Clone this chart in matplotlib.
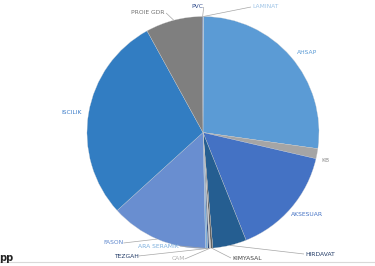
import matplotlib
matplotlib.use("Agg")
import matplotlib.pyplot as plt
import numpy as np

categories = ["LAMINAT", "AHSAP", "KB", "AKSESUAR", "HIRDAVAT", "KIMYASAL", "CAM",
              "TEZGAH", "ARA SERAMIK", "FASON", "ISCILIK", "PROIE GDR", "PVC"]
values = [0.1, 27.1, 1.4, 15.3, 4.7, 0.3, 0.2, 0.2, 0.3, 13.6, 28.7, 7.9, 0.1]

slice_colors = ["#9dc3e6", "#5b9bd5", "#a5a5a5", "#4472c4", "#255e91", "#636363", "#c9c9c9",
                "#264478", "#7cafdd", "#698ed0", "#327dc2", "#7f7f7f", "#2f4b8c"]
text_colors = ["#9dc3e6", "#5b9bd5", "#8c8c8c", "#4472c4", "#1f3864", "#404040", "#b0b0b0",
               "#1f3864", "#7cafdd", "#5b85cc", "#3a7bc8", "#707070", "#2f4b8c"]
# label positions (pixel coords, y from top), and whether a leader line is drawn
label_pos = [(252, 7), (307, 53), (325, 160), (307, 215), (305, 254), (232, 258), (178, 259),
             (126, 256), (158, 246), (113, 243), (72, 112), (148, 13), (197, 7)]
leader = [True, False, False, False, True, True, True, True, True, True, False, True, True]
ha_list = ["left", "center", "center", "center", "left", "left", "center",
           "center", "center", "center", "center", "center", "center"]

W, H = 375, 266
fig = plt.figure(figsize=(W / 100, H / 100), dpi=100)
ax = fig.add_axes([0, 0, 1, 1])

cx, cy, r = 203, H - 132.5, 116
wedges, _ = ax.pie(values, colors=slice_colors, startangle=90, counterclock=False,
                   center=(cx, cy), radius=r, frame=True,
                   wedgeprops=dict(linewidth=0.2, edgecolor="#d0d0d0"))
ax.set_xlim(0, W)
ax.set_ylim(0, H)
ax.set_aspect("equal")
ax.axis("off")

for w, lab, tc, (px, py), ld, ha in zip(wedges, categories, text_colors, label_pos, leader, ha_list):
    ang = np.deg2rad((w.theta1 + w.theta2) / 2)
    ex, ey = cx + r * np.cos(ang), cy + r * np.sin(ang)
    ty = H - py
    if ld:
        if ha == "left":
            lx = px - 1
        else:
            lx = px - len(lab) * 1.9 - 1 if px > ex else px + len(lab) * 1.9 + 1
        ax.plot([ex, lx], [ey, ty], color="#a6a6a6", lw=0.5, solid_capstyle="butt")
    ax.text(px, ty, lab, color=tc, fontsize=4.3, ha=ha, va="center",
            fontfamily="DejaVu Sans")

# bottom rule and cropped fragment
ax.plot([0, W], [H - 262, H - 262], color="#d9d9d9", lw=0.8)
ax.text(-1, H - 258, "pp", color="#222222", fontsize=7, ha="left", va="center",
        fontweight="bold")

fig.savefig("out.png", dpi=100)
